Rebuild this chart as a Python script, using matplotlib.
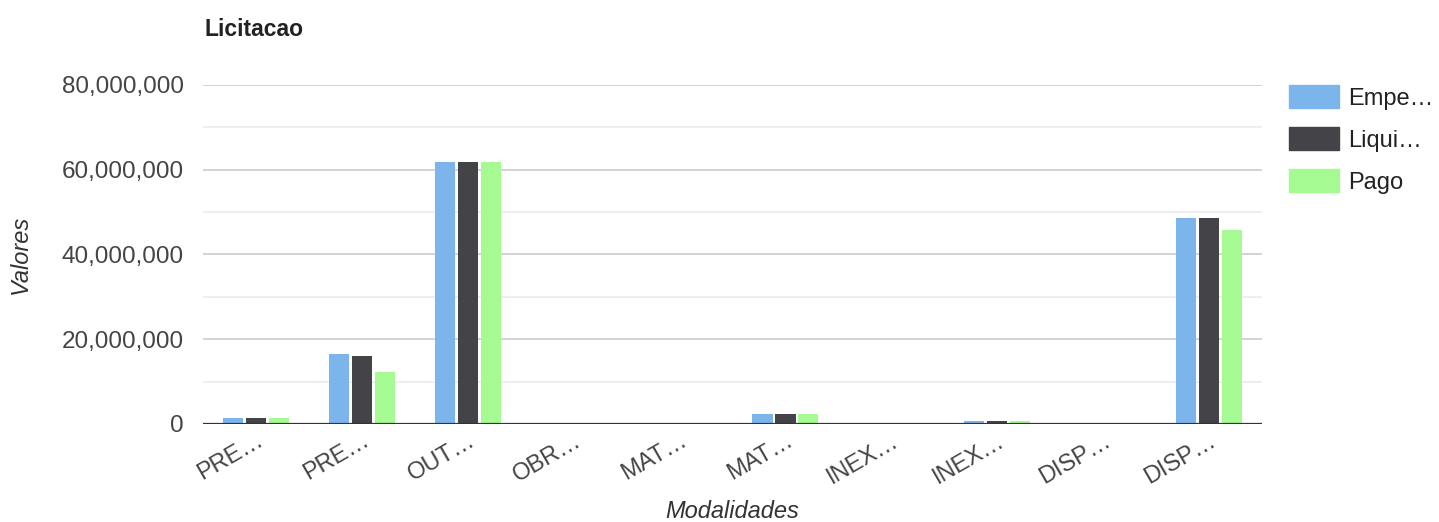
import numpy as np
import matplotlib
matplotlib.use("Agg")
import matplotlib.pyplot as plt
from matplotlib.ticker import FuncFormatter, MultipleLocator
from matplotlib.patches import Patch

plt.rcParams['font.family'] = ['Liberation Sans', 'DejaVu Sans']

categories = ["PRE…", "PRE…", "OUT…", "OBR…", "MAT…", "MAT…", "INEX…", "INEX…", "DISP…", "DISP…"]
series = ["Empe…", "Liqui…", "Pago"]
empenhado = [1.4e6, 16.5e6, 61.8e6, 0.15e6, 0.25e6, 2.4e6, 0.35e6, 0.75e6, 0.15e6, 48.6e6]
liquidado = [1.4e6, 16.0e6, 61.8e6, 0.12e6, 0.25e6, 2.4e6, 0.35e6, 0.75e6, 0.12e6, 48.6e6]
pago = [1.3e6, 12.3e6, 61.8e6, 0.12e6, 0.2e6, 2.4e6, 0.3e6, 0.6e6, 0.12e6, 45.8e6]
colors = ["#7cb5ec", "#434348", "#a6fa92"]

W, H = 1439, 522
L, R, B, T = 203, 1262, 424, 85
fig = plt.figure(figsize=(W / 100, H / 100), dpi=100)
ax = fig.add_axes([L / W, 1 - B / H, (R - L) / W, (B - T) / H])

x = np.arange(len(categories))
bw = 0.19
step = 0.217
for i, (vals, c) in enumerate(zip([empenhado, liquidado, pago], colors)):
    ax.bar(x + (i - 1) * step, vals, width=bw, color=c, zorder=3, label=series[i])

ax.set_xlim(-0.5, len(categories) - 0.5)
ax.set_ylim(0, 80e6)
ax.yaxis.set_major_locator(MultipleLocator(20e6))
ax.yaxis.set_minor_locator(MultipleLocator(10e6))
ax.yaxis.set_major_formatter(FuncFormatter(lambda v, p: f"{v:,.0f}"))
ax.grid(axis="y", which="major", color="#cccccc", lw=1.2, zorder=0)
ax.grid(axis="y", which="minor", color="#ebebeb", lw=1.2, zorder=0)
ax.axhline(0, color="#333333", lw=1.6, zorder=4)
for s in ax.spines.values():
    s.set_visible(False)
ax.tick_params(axis="both", which="both", length=0)
ax.tick_params(axis="y", labelsize=17.5, labelcolor="#444444", pad=14)
ax.set_xticks(x)
ax.set_xticklabels(categories, rotation=30, ha="right", rotation_mode="anchor",
                   fontsize=17, color="#444444")
ax.tick_params(axis="x", pad=4)

ax.set_ylabel("Valores", fontsize=17, style="italic", color="#333333")
ax.yaxis.set_label_coords((32 - L) / (R - L), 0.5)
ax.set_xlabel("Modalidades", fontsize=17, style="italic", color="#333333")
ax.xaxis.set_label_coords(0.5, -(500 - B) / (B - T))

fig.text(205 / W, 1 - 30 / H, "Licitacao", fontsize=16.5, fontweight="bold",
         color="#222222", va="center", ha="left")

handles = [Patch(color=c) for c in colors]
fig.legend(handles, series, loc="upper left", bbox_to_anchor=(1268 / W, 1 - 64 / H),
           frameon=False, fontsize=17, handlelength=2.1, handleheight=1.1,
           labelspacing=0.75, handletextpad=0.4, labelcolor="#222222")

fig.savefig("out.png", dpi=100)
